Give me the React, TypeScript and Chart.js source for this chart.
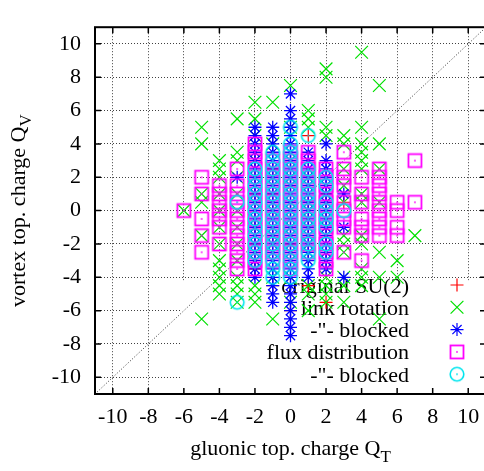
import React, { useEffect, useRef } from 'react';
import { Chart, registerables } from 'chart.js';

Chart.register(...registerables);

type Column = [number, number[]];

// ---- axes / text ----
const xTickValues = [-10, -8, -6, -4, -2, 0, 2, 4, 6, 8, 10];
const yTickValues = [-10, -8, -6, -4, -2, 0, 2, 4, 6, 8, 10];
const axisMin = -11;
const axisMax = 11;
const xTitle = 'gluonic top. charge Q';
const xTitleSub = 'T';
const yTitle = 'vortex top. charge Q';
const yTitleSub = 'V';
const legendLabels = ['original SU(2)', 'link rotation', '-"- blocked', 'flux distribution', '-"- blocked'];
const diagonalEnds = [-11, 11];

// ---- data: [Q_T, list of Q_V] ----
const originalSU2: Column[] = [
  [-2, [3, 2, 1, 0, -1, -2, -3.5]],
  [-1, [2.5, 1, 0, -1.5, -4.5]],
  [0, [3, 1.5, 0, -2, -6]],
  [1, [4.5, 2, 0.5, -1, -2.5, -4.5]],
  [2, [1, 0, -1.5, -5.5]],
  [3, [0.5]],
];

const linkRotation: Column[] = [
  [-6, [0]],
  [-5, [5, 4, 1, 0.5, -1.5, -6.5]],
  [-4, [3, 2.5, 2, 1, 0, -1, -2, -3, -3.5, -4, -4.5, -5]],
  [-3, [5.5, 3.5, 3, 2, 1, 0, -1, -2, -3, -4, -4.5, -5, -5.5]],
  [-2, [6.5, 5.5, 4.5, 3, 1, -1, -3, -4.5, -5, -5.5]],
  [-1, [6.5, 4, 2, 0, -2, -4, -6.5]],
  [0, [7.5, 5, 2, -1, -4, -5.5]],
  [1, [6, 5.5, 5, 2, 0, -2, -4.5, -5, -6]],
  [2, [8.5, 8, 5, 4.5, 1, -1, -3, -4, -4.5, -5, -5.5]],
  [3, [4.5, 4, 2.5, 1.5, 0.5, -1.5, -2, -2.5, -4, -4.5, -5.5]],
  [4, [9.5, 5, 4, 3.5, 3, 2.5, 1, 0.5, -1.5, -2, -3.5, -4, -4.5]],
  [5, [7.5, 4, 2.5, 0.5, -2.5, -4, -6.5]],
  [6, [-3, -4]],
  [7, [-1.5]],
];

const linkRotationBlocked: Column[] = [
  [-3, [2]],
  [-2, [5, 4.5, 4, 3.5, 3, 2.5, 2, 1.5, 1, 0.5, 0, -0.5, -1, -1.5, -2, -2.5, -3, -3.5, -4]],
  [-1, [5, 4.5, 4, 3.5, 3, 2.5, 2, 1.5, 1, 0.5, 0, -0.5, -1, -1.5, -2, -2.5, -3, -3.5, -4, -4.5, -5, -5.5]],
  [0, [7, 6, 5.5, 5, 4.5, 4, 3.5, 3, 2.5, 2, 1.5, 1, 0.5, 0, -0.5, -1, -1.5, -2, -2.5, -3, -3.5, -4, -4.5, -5, -5.5, -6, -6.5, -7, -7.5]],
  [1, [3.5, 3, 2.5, 2, 1.5, 1, 0.5, 0, -0.5, -1, -1.5, -2, -2.5, -3, -3.5, -4]],
  [2, [4, 3, 2.5, 2, 1.5, 1, 0.5, 0, -0.5, -1, -1.5, -2, -2.5, -3, -3.5]],
  [3, [1, -1, -4]],
];

const fluxDistribution: Column[] = [
  [-6, [0]],
  [-5, [2, 1, -0.5, -1.5, -2.5]],
  [-4, [1.5, 1, 0.5, 0, -0.5, -1, -2]],
  [-3, [2.5, 1.5, 1, 0.5, 0, -0.5, -1, -1.5, -2, -2.5, -3, -3.5]],
  [-2, [4, 3.5, 3, 2.5, 2, 1.5, 1, 0.5, 0, -0.5, -1, -1.5, -2, -2.5, -3, -3.5]],
  [-1, [3, 2.5, 2, 1.5, 1, 0.5, 0, -0.5, -1, -1.5, -2, -2.5, -3]],
  [0, [3.5, 3, 2.5, 2, 1.5, 1, 0.5, 0, -0.5, -1, -1.5, -2, -2.5, -3, -3.5]],
  [1, [3.5, 3, 2.5, 2, 1.5, 1, 0.5, 0, -0.5, -1, -1.5, -2, -2.5]],
  [2, [2.5, 2, 1.5, 1, 0.5, 0, -0.5, -1, -1.5, -2, -2.5, -3, -3.5]],
  [3, [3.5, 2.5, 2, 1.5, 0.5, 0, -0.5, -1, -2.5]],
  [4, [2, 1, 0.5, -0.5, -1, -1.5, -3]],
  [5, [2.5, 2, 1.5, 1, 0.5, 0, -0.5, -1, -1.5]],
  [6, [0.5, 0, -1, -1.5]],
  [7, [3, 0.5]],
];

const fluxBlocked: Column[] = [
  [-3, [0.5, -5.5]],
  [-2, [2.5, 2, 1.5, 1, 0.5, 0, -0.5, -1, -1.5, -2, -2.5, -3]],
  [-1, [3.5, 3, 2.5, 2, 1.5, 1, 0.5, 0, -0.5, -1, -1.5, -2, -2.5, -3, -3.5, -4]],
  [0, [5, 4, 3.5, 3, 2.5, 2, 1.5, 1, 0.5, 0, -0.5, -1, -1.5, -2, -2.5, -3, -3.5, -4]],
  [1, [4.5, 2.5, 2, 1.5, 1, 0.5, 0, -0.5, -1, -1.5, -2, -2.5, -3]],
  [2, [2, 1.5, 0.5, 0, -0.5, -1, -2, -2.5]],
  [3, [0]],
];

// ---- styling ----
const FONT = '"Liberation Serif", "Times New Roman", Times, serif';
const FONT_SIZE = 22;
const SUB_SIZE = 17;
const RED = '#ff0000';
const GREEN = '#00e000';
const BLUE = '#0000ff';
const MAGENTA = '#ff00ff';
const CYAN = '#00e5ee';
const KEY_BOX = { xFrom: -6.2, yTo: -4.2 };

function toPoints(cols: Column[]) {
  return cols.flatMap(([x, ys]) => ys.map((y) => ({ x, y })));
}

function makeMarker(kind: 'square' | 'circle', color: string): HTMLCanvasElement {
  const c = document.createElement('canvas');
  c.width = 18;
  c.height = 18;
  const g = c.getContext('2d')!;
  g.strokeStyle = color;
  g.fillStyle = color;
  if (kind === 'square') {
    g.lineWidth = 1.8;
    g.strokeRect(2.5, 2.5, 13, 13);
  } else {
    g.lineWidth = 1.6;
    g.beginPath();
    g.arc(9, 9, 6.8, 0, Math.PI * 2);
    g.stroke();
  }
  g.fillRect(8.2, 8.2, 1.6, 1.6);
  return c;
}

function drawSymbol(ctx: CanvasRenderingContext2D, kind: string, x: number, y: number, color: string, img?: HTMLCanvasElement) {
  ctx.save();
  ctx.strokeStyle = color;
  ctx.lineWidth = 1.2;
  ctx.beginPath();
  if (kind === 'cross') {
    ctx.moveTo(x - 6.5, y); ctx.lineTo(x + 6.5, y);
    ctx.moveTo(x, y - 6.5); ctx.lineTo(x, y + 6.5);
  } else if (kind === 'crossRot') {
    ctx.moveTo(x - 6.4, y - 6.4); ctx.lineTo(x + 6.4, y + 6.4);
    ctx.moveTo(x - 6.4, y + 6.4); ctx.lineTo(x + 6.4, y - 6.4);
  } else if (kind === 'star') {
    ctx.moveTo(x - 6.5, y); ctx.lineTo(x + 6.5, y);
    ctx.moveTo(x, y - 6.5); ctx.lineTo(x, y + 6.5);
    ctx.moveTo(x - 4.6, y - 4.6); ctx.lineTo(x + 4.6, y + 4.6);
    ctx.moveTo(x - 4.6, y + 4.6); ctx.lineTo(x + 4.6, y - 4.6);
  }
  ctx.stroke();
  if (img) ctx.drawImage(img, x - img.width / 2, y - img.height / 2);
  ctx.restore();
}

export default function App() {
  const canvasRef = useRef<HTMLCanvasElement | null>(null);

  useEffect(() => {
    const canvas = canvasRef.current;
    if (!canvas) return;
    const squareImg = makeMarker('square', MAGENTA);
    const circleImg = makeMarker('circle', CYAN);

    const gnuplotPlugin = {
      id: 'gnuplotDecor',
      beforeDatasetsDraw(chart: any) {
        const { ctx, chartArea: a, scales } = chart;
        const left = scales.x.getPixelForValue(KEY_BOX.xFrom);
        const top = scales.y.getPixelForValue(KEY_BOX.yTo);
        ctx.save();
        ctx.fillStyle = '#ffffff';
        ctx.fillRect(left, top, a.right - left, a.bottom - top);
        ctx.font = `${FONT_SIZE}px ${FONT}`;
        ctx.fillStyle = '#000';
        ctx.textAlign = 'right';
        ctx.textBaseline = 'alphabetic';
        legendLabels.forEach((t, i) => ctx.fillText(t, 409, 292.5 + i * 22.3));
        ctx.restore();
      },
      afterDatasetsDraw(chart: any) {
        const { ctx, chartArea: a, scales } = chart;
        const kinds: [string, string, HTMLCanvasElement | undefined][] = [
          ['cross', RED, undefined],
          ['crossRot', GREEN, undefined],
          ['star', BLUE, undefined],
          ['img', MAGENTA, squareImg],
          ['img', CYAN, circleImg],
        ];
        kinds.forEach(([k, c, img], i) => drawSymbol(ctx, k, 457, 285 + i * 22.3, c, img));

        ctx.save();
        ctx.strokeStyle = '#000';
        ctx.lineWidth = 1.5;
        ctx.beginPath();
        xTickValues.forEach((v) => {
          const px = scales.x.getPixelForValue(v);
          ctx.moveTo(px, a.bottom); ctx.lineTo(px, a.bottom - 6);
          ctx.moveTo(px, a.top); ctx.lineTo(px, a.top + 6);
        });
        yTickValues.forEach((v) => {
          const py = scales.y.getPixelForValue(v);
          ctx.moveTo(a.left, py); ctx.lineTo(a.left + 6, py);
          ctx.moveTo(a.right, py); ctx.lineTo(a.right - 6, py);
        });
        ctx.stroke();
        ctx.lineWidth = 2;
        ctx.strokeRect(a.left, a.top, a.right - a.left, a.bottom - a.top);

        ctx.fillStyle = '#000';
        ctx.textBaseline = 'alphabetic';
        ctx.textAlign = 'left';
        ctx.font = `${FONT_SIZE}px ${FONT}`;
        const xw = ctx.measureText(xTitle).width;
        ctx.font = `${SUB_SIZE}px ${FONT}`;
        const xs = ctx.measureText(xTitleSub).width;
        const cx = (a.left + a.right) / 2;
        const x0 = cx - (xw + xs) / 2;
        ctx.font = `${FONT_SIZE}px ${FONT}`;
        ctx.fillText(xTitle, x0, 455);
        ctx.font = `${SUB_SIZE}px ${FONT}`;
        ctx.fillText(xTitleSub, x0 + xw, 462);

        ctx.font = `${FONT_SIZE}px ${FONT}`;
        const yw = ctx.measureText(yTitle).width;
        ctx.font = `${SUB_SIZE}px ${FONT}`;
        const ys = ctx.measureText(yTitleSub).width;
        const cy = (a.top + a.bottom) / 2;
        ctx.translate(25, cy);
        ctx.rotate(-Math.PI / 2);
        const y0 = -(yw + ys) / 2;
        ctx.font = `${FONT_SIZE}px ${FONT}`;
        ctx.fillText(yTitle, y0, 0);
        ctx.font = `${SUB_SIZE}px ${FONT}`;
        ctx.fillText(yTitleSub, y0 + yw, 6);
        ctx.restore();
      },
    };

    const tickFont = { family: FONT, size: FONT_SIZE };
    const gridOpts = { color: 'rgba(0,0,0,0.75)', lineWidth: 1, drawTicks: false };
    const borderOpts = { display: false, dash: [1, 2] };

    const chart = new Chart(canvas, {
      type: 'scatter',
      data: {
        datasets: [
          {
            label: 'diagonal',
            data: diagonalEnds.map((v) => ({ x: v, y: v })),
            showLine: true,
            borderColor: '#333',
            borderWidth: 1,
            borderDash: [1, 2],
            pointRadius: 0,
            order: 10,
          },
          {
            label: legendLabels[0],
            data: toPoints(originalSU2),
            pointStyle: 'cross',
            pointRadius: 6.5,
            borderColor: RED,
            backgroundColor: RED,
            pointBorderWidth: 1.2,
            order: 5,
          },
          {
            label: legendLabels[1],
            data: toPoints(linkRotation),
            pointStyle: 'crossRot',
            pointRadius: 9,
            borderColor: GREEN,
            backgroundColor: GREEN,
            pointBorderWidth: 1.2,
            order: 4,
          },
          {
            label: legendLabels[2],
            data: toPoints(linkRotationBlocked),
            pointStyle: 'star',
            pointRadius: 6.5,
            borderColor: BLUE,
            backgroundColor: BLUE,
            pointBorderWidth: 1.3,
            order: 3,
          },
          {
            label: legendLabels[3],
            data: toPoints(fluxDistribution),
            pointStyle: squareImg,
            pointRadius: 7,
            borderColor: MAGENTA,
            backgroundColor: MAGENTA,
            order: 2,
          },
          {
            label: legendLabels[4],
            data: toPoints(fluxBlocked),
            pointStyle: circleImg,
            pointRadius: 7,
            borderColor: CYAN,
            backgroundColor: CYAN,
            order: 1,
          },
        ],
      },
      options: {
        animation: false,
        responsive: false,
        devicePixelRatio: 1,
        layout: { padding: { top: 3, right: 14, left: 0, bottom: 0 } },
        plugins: { legend: { display: false }, tooltip: { enabled: false } },
        scales: {
          x: {
            type: 'linear',
            min: axisMin,
            max: axisMax,
            afterBuildTicks: (s: any) => { s.ticks = xTickValues.map((v) => ({ value: v })); },
            afterFit: (s: any) => { s.height = 77; },
            ticks: { font: tickFont, color: '#000', padding: 10, autoSkip: false, maxRotation: 0, callback: (v: any) => String(v) },
            grid: gridOpts,
            border: borderOpts,
          },
          y: {
            type: 'linear',
            min: axisMin,
            max: axisMax,
            afterBuildTicks: (s: any) => { s.ticks = yTickValues.map((v) => ({ value: v })); },
            afterFit: (s: any) => { s.width = 95; },
            ticks: { font: tickFont, color: '#000', padding: 14, autoSkip: false, callback: (v: any) => String(v) },
            grid: gridOpts,
            border: borderOpts,
          },
        },
      } as any,
      plugins: [gnuplotPlugin],
    });

    return () => chart.destroy();
  }, []);

  return (
    <div style={{ position: 'absolute', left: 0, top: 0, width: 484, height: 471, overflow: 'hidden', background: '#fff' }}>
      <canvas ref={canvasRef} width={500} height={471} style={{ display: 'block' }} />
    </div>
  );
}
